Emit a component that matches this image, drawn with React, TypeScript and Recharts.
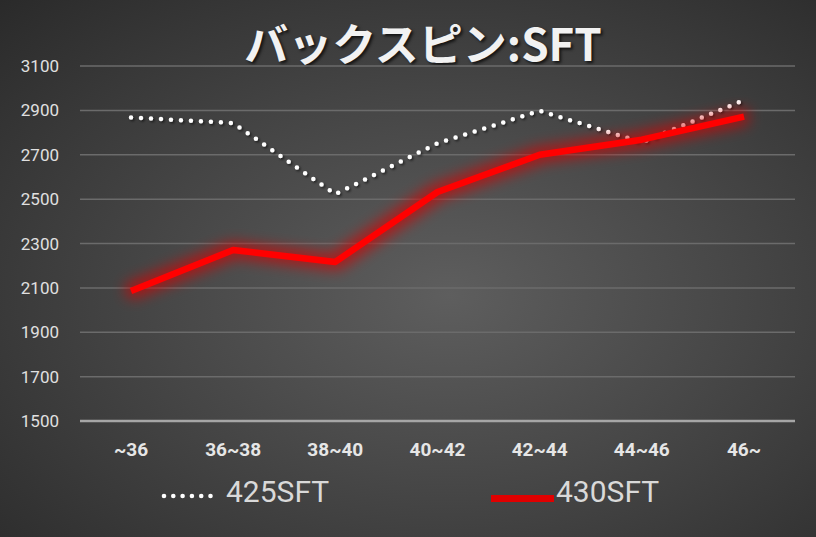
import React from "react";
import { LineChart, Line, XAxis, YAxis, CartesianGrid, ReferenceLine, Customized } from "recharts";

const categories = ["~36", "36~38", "38~40", "40~42", "42~44", "44~46", "46~"];
const sft425 = [2868, 2843, 2522, 2752, 2898, 2756, 2946];
const sft430 = [2086, 2271, 2217, 2532, 2700, 2768, 2872];
const yTicks = [1500, 1700, 1900, 2100, 2300, 2500, 2700, 2900, 3100];

const data = categories.map((c, i) => ({ cat: c, a: sft425[i], b: sft430[i] }));

const W = 816;
const H = 537;
const tickFont = '"Liberation Sans Narrow", Roboto, "Noto Sans", sans-serif';

const Defs = () => (
  <defs>
    <filter id="redGlow" x="-20%" y="-80%" width="140%" height="260%">
      <feMorphology in="SourceAlpha" operator="dilate" radius="4" result="fat" />
      <feGaussianBlur in="fat" stdDeviation="7" result="blur" />
      <feFlood floodColor="#d80000" floodOpacity="0.7" result="col" />
      <feComposite in="col" in2="blur" operator="in" result="glow" />
      <feMerge>
        <feMergeNode in="glow" />
        <feMergeNode in="SourceGraphic" />
      </feMerge>
    </filter>
    <filter id="dotShadow" x="-10%" y="-50%" width="120%" height="200%">
      <feDropShadow dx="1.5" dy="1.5" stdDeviation="1.2" floodColor="#000" floodOpacity="0.6" />
    </filter>
  </defs>
);

export default function App() {
  return (
    <div
      style={{
        position: "absolute",
        left: 0,
        top: 0,
        width: W,
        height: H,
        background: "radial-gradient(ellipse at 55% 55%, #5e5e5e 0%, #474747 45%, #2a2a2a 100%)",
        overflow: "hidden",
      }}
    >
      <div
        style={{
          position: "absolute",
          left: 0,
          width: W,
          top: 14,
          textAlign: "center",
          fontFamily: '"Noto Sans CJK JP", sans-serif',
          fontWeight: 700,
          fontSize: 44,
          lineHeight: "56px",
          color: "#f2f2f2",
          textShadow: "2px 2px 3px rgba(0,0,0,0.7)",
          paddingLeft: 30,
          boxSizing: "border-box",
        }}
      >
        バックスピン:SFT
      </div>
      <LineChart
        width={W}
        height={H}
        data={data}
        margin={{ top: 66, right: 21, left: 0, bottom: 66 }}
        style={{ position: "absolute", left: 0, top: 0 }}
      >
        <Customized component={Defs} />
        <CartesianGrid vertical={false} stroke="#6b6b6b" strokeWidth={1.5} />
        <XAxis
          dataKey="cat"
          axisLine={false}
          tickLine={false}
          interval={0}
          height={50}
          padding={{ left: 51, right: 51 }}
          tick={{ fill: "#e6e6e6", fontSize: 19, fontWeight: 700, fontFamily: tickFont }}
          dy={14}
        />
        <YAxis
          domain={[1500, 3100]}
          ticks={yTicks}
          axisLine={false}
          tickLine={false}
          width={80}
          interval={0}
          tick={{ fill: "#e0e0e0", fontSize: 17, fontFamily: tickFont }}
          dx={-13}
        />
        <ReferenceLine y={1500} stroke="#a6a6a6" strokeWidth={2.5} />
        <Line
          dataKey="a"
          stroke="#ffffff"
          strokeWidth={4.5}
          strokeDasharray="0 10"
          strokeLinecap="round"
          dot={false}
          activeDot={false}
          isAnimationActive={false}
          filter="url(#dotShadow)"
        />
        <Line
          dataKey="b"
          stroke="#ff0000"
          strokeWidth={6.5}
          strokeLinejoin="round"
          dot={false}
          activeDot={false}
          isAnimationActive={false}
          filter="url(#redGlow)"
        />
      </LineChart>
      <div
        style={{
          position: "absolute",
          top: 474,
          left: 0,
          width: W,
          height: 38,
          fontFamily: tickFont,
          fontSize: 30,
          color: "#d9d9d9",
        }}
      >
        <svg style={{ position: "absolute", left: 160, top: 13 }} width={60} height={16}>
          {[0, 1, 2, 3, 4, 5].map((i) => (
            <circle key={i} cx={4 + i * 9.3} cy={9} r={2.3} fill="#ffffff" />
          ))}
        </svg>
        <span style={{ position: "absolute", left: 226, top: 0 }}>425SFT</span>
        <div style={{ position: "absolute", left: 491, top: 21, width: 63, height: 7, background: "#e00000" }} />
        <span style={{ position: "absolute", left: 556, top: 0 }}>430SFT</span>
      </div>
    </div>
  );
}
